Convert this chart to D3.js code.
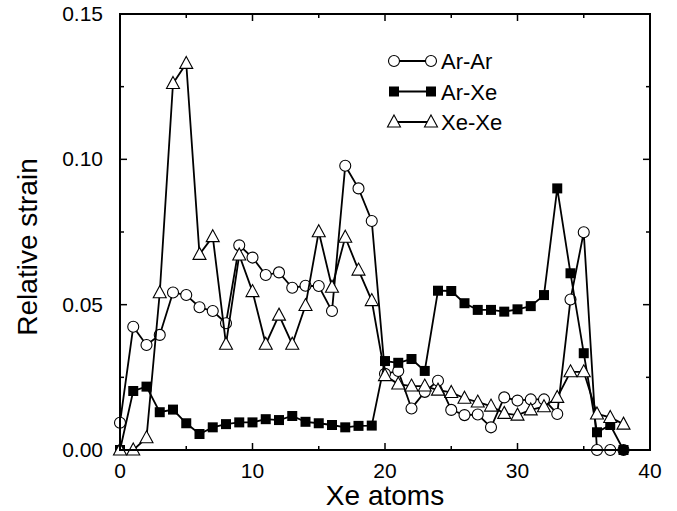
<!DOCTYPE html>
<html>
<head>
<meta charset="utf-8">
<script src="https://cdn.jsdelivr.net/npm/d3@7"></script>
<style>
  body { margin: 0; background: #fff; }
  svg text { font-family: "Liberation Sans", Arial, sans-serif; fill: #000; }
</style>
</head>
<body>
<div id="chart"></div>
<script>
// values, x = 0..38 Xe atoms
const xeAtoms = d3.range(0, 39);

const arAr = [0.0094, 0.0424, 0.0361, 0.0396, 0.0542, 0.0533, 0.0491, 0.0478, 0.0436, 0.0704,
  0.0662, 0.0602, 0.0611, 0.0558, 0.0565, 0.0564, 0.0478, 0.0978, 0.0900, 0.0788,
  0.0262, 0.0272, 0.0143, 0.0200, 0.0238, 0.0138, 0.0120, 0.0122, 0.0078, 0.0181,
  0.0170, 0.0174, 0.0174, 0.0124, 0.0518, 0.0749, 0.0000, 0.0000, 0.0000];

const arXe = [0.0000, 0.0203, 0.0218, 0.0130, 0.0139, 0.0092, 0.0055, 0.0078, 0.0089, 0.0095,
  0.0095, 0.0106, 0.0103, 0.0117, 0.0097, 0.0092, 0.0086, 0.0078, 0.0083, 0.0084,
  0.0306, 0.0300, 0.0313, 0.0272, 0.0548, 0.0547, 0.0505, 0.0482, 0.0482, 0.0476,
  0.0484, 0.0495, 0.0533, 0.0900, 0.0608, 0.0333, 0.0061, 0.0086, 0.0000];

const xeXe = [0.0000, 0.0000, 0.0042, 0.0541, 0.1261, 0.1330, 0.0673, 0.0734, 0.0364, 0.0671,
  0.0545, 0.0364, 0.0464, 0.0364, 0.0497, 0.0751, 0.0560, 0.0732, 0.0619, 0.0514,
  0.0256, 0.0227, 0.0220, 0.0220, 0.0206, 0.0198, 0.0178, 0.0165, 0.0151, 0.0126,
  0.0120, 0.0138, 0.0149, 0.0181, 0.0269, 0.0269, 0.0124, 0.0112, 0.0089];

const seriesNames = ["Ar-Ar", "Ar-Xe", "Xe-Xe"];
const seriesMarkers = ["circle", "square", "triangle"];

const xTicks = [0, 10, 20, 30, 40];
const yTicks = [0, 0.05, 0.10, 0.15];

const W = 677, H = 511;
const margin = { top: 14, right: 27, bottom: 61, left: 120 };

const svg = d3.select("#chart").append("svg")
    .attr("width", W).attr("height", H);

const x = d3.scaleLinear().domain([0, 40]).range([margin.left, W - margin.right]);
const y = d3.scaleLinear().domain([0, 0.15]).range([H - margin.bottom, margin.top]);

// frame ticks (all pointing inward)
function tickLines(g, scale, vals, len, orient) {
    vals.forEach(v => {
        if (orient === "bottom") g.append("line").attr("x1", scale(v)).attr("x2", scale(v)).attr("y1", y(0)).attr("y2", y(0) - len);
        if (orient === "top") g.append("line").attr("x1", scale(v)).attr("x2", scale(v)).attr("y1", y(0.15)).attr("y2", y(0.15) + len);
        if (orient === "left") g.append("line").attr("y1", scale(v)).attr("y2", scale(v)).attr("x1", x(0)).attr("x2", x(0) + len);
        if (orient === "right") g.append("line").attr("y1", scale(v)).attr("y2", scale(v)).attr("x1", x(40)).attr("x2", x(40) - len);
    });
}
const ticks = svg.append("g").attr("stroke", "#000").attr("stroke-width", 1.5);
const xMinor = d3.range(5, 40, 10);
const yMinor = [0.025, 0.075, 0.125];
["bottom", "top"].forEach(o => {
    tickLines(ticks, x, xTicks, 7, o);
    tickLines(ticks, x, xMinor, 4, o);
});
["left", "right"].forEach(o => {
    tickLines(ticks, y, yTicks, 7, o);
    tickLines(ticks, y, yMinor, 4, o);
});

// tick labels
svg.append("g").selectAll("text").data(xTicks).join("text")
    .attr("x", d => x(d)).attr("y", y(0) + 28)
    .attr("text-anchor", "middle").attr("font-size", 21)
    .text(d => d);
svg.append("g").selectAll("text").data(yTicks).join("text")
    .attr("x", x(0) - 17).attr("y", d => y(d) + 7)
    .attr("text-anchor", "end").attr("font-size", 21)
    .text(d => d3.format(".2f")(d));

// axis titles
svg.append("text").attr("x", (x(0) + x(40)) / 2).attr("y", H - 6)
    .attr("text-anchor", "middle").attr("font-size", 28).text("Xe atoms");
svg.append("text")
    .attr("transform", "translate(37, 247) rotate(-90)")
    .attr("text-anchor", "middle").attr("font-size", 28).text("Relative strain");

// markers
function drawMarker(g, type, cx, cy) {
    if (type === "circle") {
        g.append("circle").attr("cx", cx).attr("cy", cy).attr("r", 5.5)
            .attr("fill", "#fff").attr("stroke", "#000").attr("stroke-width", 1.1);
    } else if (type === "square") {
        g.append("rect").attr("x", cx - 5).attr("y", cy - 5).attr("width", 10).attr("height", 10)
            .attr("fill", "#000");
    } else {
        g.append("path").attr("d", `M${cx},${cy - 7}L${cx + 6.5},${cy + 5}L${cx - 6.5},${cy + 5}Z`)
            .attr("fill", "#fff").attr("stroke", "#000").attr("stroke-width", 1.1);
    }
}

const allSeries = [arAr, arXe, xeXe];
const line = d3.line().x((d, i) => x(xeAtoms[i])).y(d => y(d));

allSeries.forEach((vals, s) => {
    const g = svg.append("g");
    g.append("path").datum(vals).attr("d", line)
        .attr("fill", "none").attr("stroke", "#000").attr("stroke-width", 1.8);
    vals.forEach((v, i) => drawMarker(g, seriesMarkers[s], x(xeAtoms[i]), y(v)));
});

// frame
svg.append("rect")
    .attr("x", x(0)).attr("y", y(0.15))
    .attr("width", x(40) - x(0)).attr("height", y(0) - y(0.15))
    .attr("fill", "none").attr("stroke", "#000").attr("stroke-width", 2);

// legend
const legend = svg.append("g");
seriesNames.forEach((name, i) => {
    const ly = 61 + i * 30.5;
    legend.append("line").attr("x1", 394).attr("x2", 431).attr("y1", ly).attr("y2", ly)
        .attr("stroke", "#000").attr("stroke-width", 1.8);
    drawMarker(legend, seriesMarkers[i], 394, ly);
    drawMarker(legend, seriesMarkers[i], 431, ly);
    legend.append("text").attr("x", 441).attr("y", ly + 8)
        .attr("font-size", 22).text(name);
});
</script>
</body>
</html>
